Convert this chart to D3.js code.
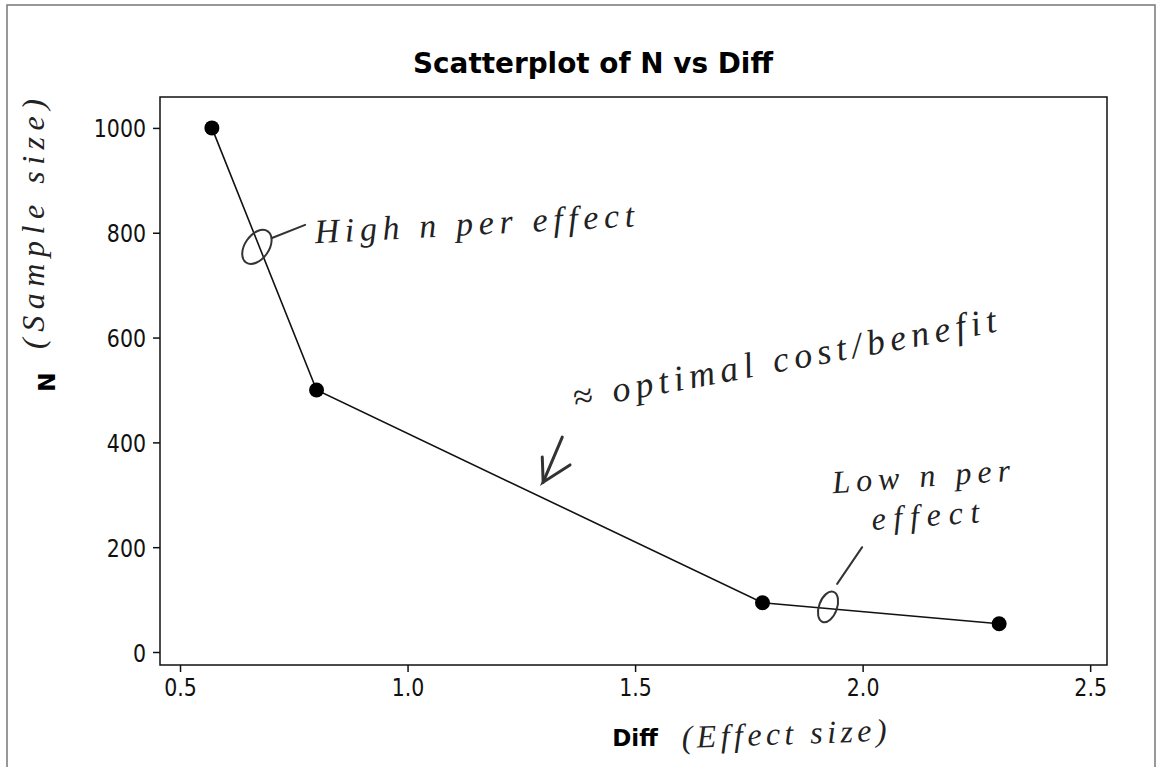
<!DOCTYPE html>
<html>
<head>
<meta charset="utf-8">
<script src="https://cdn.jsdelivr.net/npm/d3@7"></script>
<style>
  body { margin: 0; background: #fff; }
  .hand { font-family: "Liberation Serif", serif; font-style: italic; fill: #222; }
</style>
</head>
<body>
<svg width="1161" height="767"></svg>
<script>
/* data */
var diff = [0.57, 0.80, 1.78, 2.30];
var sampleN = [1000, 500, 94, 54];
var xTicks = [0.5, 1.0, 1.5, 2.0, 2.5];
var yTicks = [0, 200, 400, 600, 800, 1000];

var svg = d3.select("svg");
var frame = {left: 160, right: 1107, top: 97, bottom: 665};

/* outer border of the page */
svg.append("rect")
    .attr("x", 7).attr("y", 5)
    .attr("width", 1148).attr("height", 770)
    .attr("fill", "none")
    .attr("stroke", "#777")
    .attr("stroke-width", 1.5);

var x = d3.scaleLinear()
    .domain([0.456, 2.537])
    .range([frame.left, frame.right]);

var y = d3.scaleLinear()
    .domain([-24.8, 1059])
    .range([frame.bottom, frame.top]);

/* title */
svg.append("text")
    .attr("x", 593)
    .attr("y", 73)
    .attr("text-anchor", "middle")
    .attr("font-family", "DejaVu Sans, sans-serif")
    .attr("font-weight", "bold")
    .attr("font-size", 28)
    .attr("textLength", 360)
    .attr("lengthAdjust", "spacingAndGlyphs")
    .text("Scatterplot of N vs Diff");

/* plot frame */
svg.append("rect")
    .attr("x", frame.left).attr("y", frame.top)
    .attr("width", frame.right - frame.left)
    .attr("height", frame.bottom - frame.top)
    .attr("fill", "none")
    .attr("stroke", "#111")
    .attr("stroke-width", 1.5);

/* axes */
var xAxis = svg.append("g")
    .attr("transform", "translate(0," + frame.bottom + ")")
    .call(d3.axisBottom(x).tickValues(xTicks).tickFormat(d3.format(".1f")).tickSize(7).tickPadding(6));

var yAxis = svg.append("g")
    .attr("transform", "translate(" + frame.left + ",0)")
    .call(d3.axisLeft(y).tickValues(yTicks).tickFormat(d3.format("d")).tickSize(7).tickPadding(7));

/* Tahoma-like labels: DejaVu squeezed a little */
[xAxis, yAxis].forEach(function(a) {
  a.select(".domain").remove();
  a.selectAll(".tick line").attr("stroke", "#111").attr("stroke-width", 1.5);
  a.selectAll(".tick text")
      .attr("font-family", "DejaVu Sans, sans-serif")
      .attr("font-size", 25)
      .attr("fill", "#111")
      .attr("lengthAdjust", "spacingAndGlyphs")
      .attr("textLength", function() { return this.getComputedTextLength() * 0.82; });
});
yAxis.selectAll(".tick text").attr("dy", "0.36em");

/* axis titles */
svg.append("text")
    .attr("x", 635)
    .attr("y", 746)
    .attr("text-anchor", "middle")
    .attr("font-family", "DejaVu Sans, sans-serif")
    .attr("font-weight", "bold")
    .attr("font-size", 23)
    .text("Diff");

svg.append("text")
    .attr("transform", "translate(55,382) rotate(-90)")
    .attr("text-anchor", "middle")
    .attr("font-family", "DejaVu Sans, sans-serif")
    .attr("font-weight", "bold")
    .attr("font-size", 23)
    .text("N");

/* connected points */
var pts = diff.map(function(d, i) { return {diff: d, n: sampleN[i]}; });

svg.append("path")
    .datum(pts)
    .attr("fill", "none")
    .attr("stroke", "#111")
    .attr("stroke-width", 1.6)
    .attr("d", d3.line().x(function(d) { return x(d.diff); }).y(function(d) { return y(d.n); }));

svg.selectAll("circle.pt")
    .data(pts)
    .enter().append("circle")
      .attr("class", "pt")
      .attr("cx", function(d) { return x(d.diff); })
      .attr("cy", function(d) { return y(d.n); })
      .attr("r", 7.5)
      .attr("fill", "#000");

/* handwritten notes */
var ink = svg.append("g").attr("stroke", "#333").attr("stroke-width", 2).attr("fill", "none")
    .attr("stroke-linecap", "round");

ink.append("ellipse")
    .attr("transform", "translate(" + x(0.669) + "," + y(773) + ") rotate(35)")
    .attr("rx", 12).attr("ry", 19);
ink.append("line")
    .attr("x1", x(0.702)).attr("y1", y(790))
    .attr("x2", x(0.775)).attr("y2", y(815));

ink.append("polyline")
    .attr("stroke-width", 3)
    .attr("points", [[x(1.340), y(410)], [x(1.298), y(324)], [x(1.357), y(357)]].join(" "));
ink.append("line")
    .attr("stroke-width", 3)
    .attr("x1", x(1.298)).attr("y1", y(324))
    .attr("x2", x(1.296)).attr("y2", y(372));

ink.append("line")
    .attr("x1", x(1.999)).attr("y1", y(200))
    .attr("x2", x(1.944)).attr("y2", y(130));
ink.append("ellipse")
    .attr("transform", "translate(" + x(1.924) + "," + y(86) + ") rotate(20)")
    .attr("rx", 9).attr("ry", 16);

function note(px, py, angle, size, len, txt) {
  svg.append("text")
      .attr("class", "hand")
      .attr("transform", "translate(" + px + "," + py + ") rotate(" + angle + ")")
      .attr("font-size", size)
      .attr("textLength", len)
      .attr("lengthAdjust", "spacing")
      .text(txt);
}

note(x(0.797), y(780), -3, 34, 320, "High n per effect");
note(x(1.368), y(462), -10.5, 36, 430, "\u2248 optimal cost/benefit");
note(x(1.935), y(303), -4, 32, 178, "Low n per");
note(x(2.021), y(233), -4, 32, 108, "effect");
note(682, 748, -2, 32, 205, "(Effect size)");

svg.append("text")
    .attr("class", "hand")
    .attr("transform", "translate(44,224) rotate(-90)")
    .attr("text-anchor", "middle")
    .attr("font-size", 32)
    .attr("textLength", 250)
    .attr("lengthAdjust", "spacing")
    .text("(Sample size)");
</script>
</body>
</html>
